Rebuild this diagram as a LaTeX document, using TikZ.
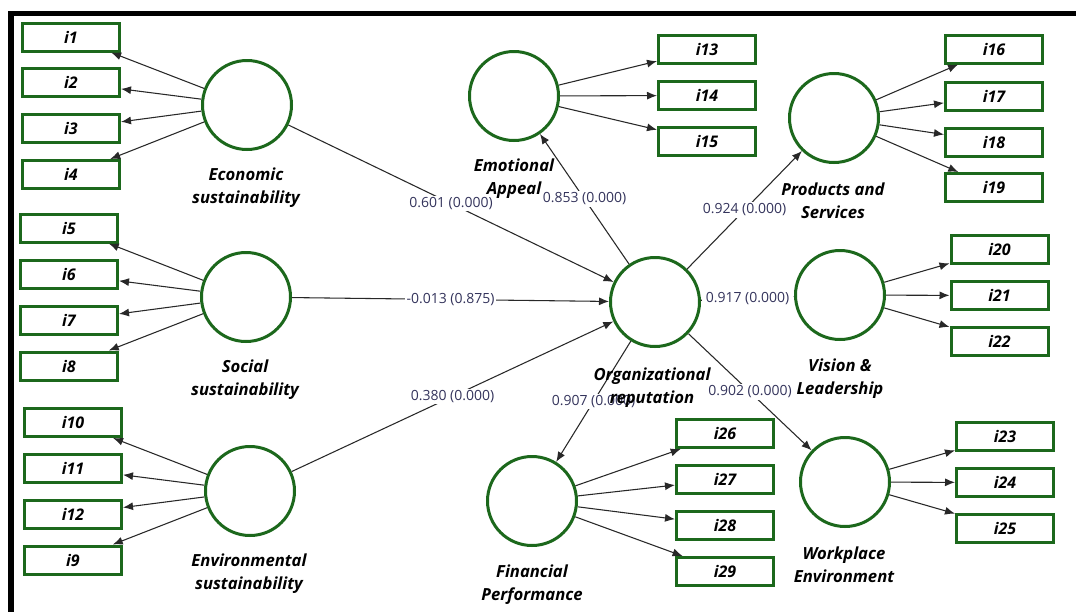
\documentclass[tikz,border=0pt]{standalone}
\usepackage{fontspec}
\setmainfont{Open Sans}
\usetikzlibrary{arrows.meta}
\definecolor{pls}{RGB}{28,104,28}
\definecolor{coef}{RGB}{52,52,92}
\definecolor{wire}{RGB}{40,40,40}

\begin{document}
\begin{tikzpicture}[x=0.75pt,y=-0.75pt,
  lv/.style={circle,draw=pls,line width=2.25pt,minimum size=66.75pt,inner sep=0pt},
  ind/.style={draw=pls,line width=2.25pt,minimum width=72.75pt,minimum height=21pt,inner sep=0pt,
              font=\bfseries\itshape\fontsize{12}{14}\selectfont},
  lvname/.style={align=center,inner sep=0pt,font=\bfseries\itshape\fontsize{12.5}{17.25}\selectfont},
  link/.style={draw=wire,line width=0.8pt,-{Latex[length=7.5pt,width=6pt]}},
  val/.style={fill=white,inner ysep=1pt,inner xsep=1.5pt,text=coef,font=\fontsize{10.5}{12}\selectfont}
]
\useasboundingbox (0,0) rectangle (1076,612);
\fill[white] (0,0) rectangle (1076,612);

% frame edges
\fill[black] (8,11) rectangle (1076,16);
\fill[black] (8,11) rectangle (14,612);

% latent variables
\node[lv] (eco)  at (247,105) {};
\node[lv] (soc)  at (246,297) {};
\node[lv] (env)  at (250,491) {};
\node[lv] (org)  at (655,302) {};
\node[lv] (emo)  at (514,96)  {};
\node[lv] (prod) at (834,118) {};
\node[lv] (vis)  at (840,295) {};
\node[lv] (fin)  at (532,501) {};
\node[lv] (work) at (845,482) {};

% indicators
\node[ind] (i1)  at (71,37)    {i1};
\node[ind] (i2)  at (71,82.5)  {i2};
\node[ind] (i3)  at (71,128.5) {i3};
\node[ind] (i4)  at (71,174.5) {i4};
\node[ind] (i5)  at (69,228)   {i5};
\node[ind] (i6)  at (69,274.5) {i6};
\node[ind] (i7)  at (69,320.5) {i7};
\node[ind] (i8)  at (69,366)   {i8};
\node[ind] (i10) at (73,422.5) {i10};
\node[ind] (i11) at (73,468.5) {i11};
\node[ind] (i12) at (73,514)   {i12};
\node[ind] (i9)  at (73,560)   {i9};
\node[ind] (i13) at (707,49)   {i13};
\node[ind] (i14) at (707,95.5) {i14};
\node[ind] (i15) at (707,141.5){i15};
\node[ind] (i16) at (994,49)   {i16};
\node[ind] (i17) at (994,96)   {i17};
\node[ind] (i18) at (994,142)  {i18};
\node[ind] (i19) at (994,187.5){i19};
\node[ind] (i20) at (999.5,249)  {i20};
\node[ind] (i21) at (999.5,295.5){i21};
\node[ind] (i22) at (999.5,341.5){i22};
\node[ind] (i26) at (725,433.5){i26};
\node[ind] (i27) at (725,479.5){i27};
\node[ind] (i28) at (725,525.5){i28};
\node[ind] (i29) at (725,571.5){i29};
\node[ind] (i23) at (1005,436)  {i23};
\node[ind] (i24) at (1005,482.5){i24};
\node[ind] (i25) at (1005,528)  {i25};

% measurement arrows
\foreach \s/\t in {eco/i1,eco/i2,eco/i3,eco/i4,
                   soc/i5,soc/i6,soc/i7,soc/i8,
                   env/i10,env/i11,env/i12,env/i9,
                   emo/i13,emo/i14,emo/i15,
                   prod/i16,prod/i17,prod/i18,prod/i19,
                   vis/i20,vis/i21,vis/i22,
                   fin/i26,fin/i27,fin/i28,fin/i29,
                   work/i23,work/i24,work/i25}
  \draw[link] (\s) -- (\t);

% structural paths with coefficients
\draw[link] (eco) -- node[val] {0.601 (0.000)} (org);
\draw[link] (soc) -- node[val] {-0.013 (0.875)} (org);
\draw[link] (env) -- node[val] {0.380 (0.000)} (org);
\draw[link] (org) -- node[val] {0.853 (0.000)} (emo);
\draw[link] (org) -- node[val] {0.924 (0.000)} (prod);
\draw[link] (org) -- node[val,inner xsep=3pt] {0.917 (0.000)} (vis);
\draw[link] (org) -- node[val] {0.902 (0.000)} (work);
\draw[link] (org) -- node[val] {0.907 (0.000)} (fin);

% construct names
\node[lvname] (ceco)  at (246,188)   {Economic\\sustainability};
\node[lvname] (csoc)  at (245,379.5) {Social\\sustainability};
\node[lvname] (cenv)  at (249,573.5) {Environmental\\sustainability};
\node[lvname] (corg)  at (652,388)   {Organizational\\reputation};
\node[lvname] (cemo)  at (514,178.5) {Emotional\\Appeal};
\node[lvname] (cprod) at (833,201)   {Products and\\Services};
\node[lvname] (cvis)  at (840,378.5) {Vision \&\\Leadership};
\node[lvname] (cfin)  at (532,585)   {Financial\\Performance};
\node[lvname] (cwork) at (844,564.5) {Workplace\\Environment};
\end{tikzpicture}
\end{document}
